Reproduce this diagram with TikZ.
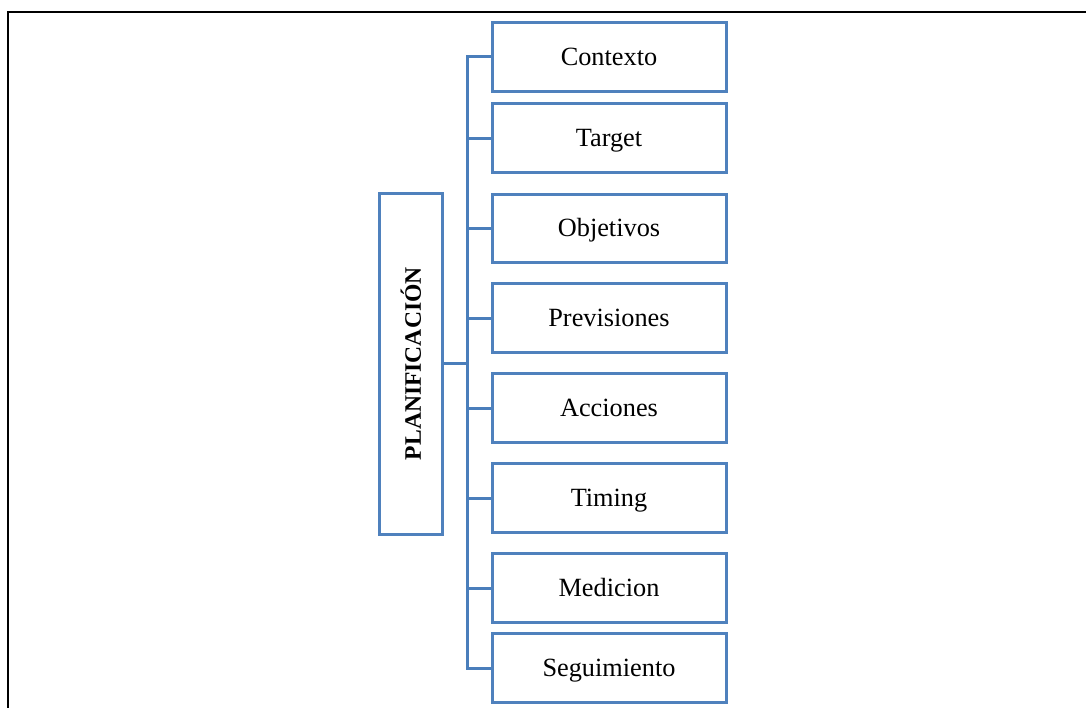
\documentclass[tikz,border=0pt]{standalone}
\usepackage{fontspec}
\setmainfont{Liberation Serif}
\definecolor{boxblue}{HTML}{4F81BD}
\definecolor{linkblue}{HTML}{4A7EBB}
\begin{document}
\begin{tikzpicture}[x=1pt,y=-1pt,
  item/.style={draw=boxblue, line width=3pt, minimum width=234pt, minimum height=68.5pt,
    inner sep=0pt, text height=18pt, text depth=1.6pt, font=\fontsize{26.3}{30}\selectfont},
  mainbox/.style={draw=boxblue, line width=3pt, minimum width=63.5pt, minimum height=341pt,
    inner sep=0pt},
  link/.style={draw=linkblue, line width=3pt}]
\useasboundingbox (0,0) rectangle (1086,708);
% frame (top and left edges)
\draw[line width=2.2pt] (8.3,708) -- (8.3,12) -- (1086,12);

% central box
\node[mainbox] (plan) at (410.8,363.7) {};
\node[rotate=90, font=\bfseries\fontsize{23.6}{28}\selectfont] (plantext) at (plan.center) {PLANIFICACIÓN};

% branch boxes
\node[item] (b1) at (609,57)    {Contexto};
\node[item] (b2) at (609,138.2) {Target};
\node[item] (b3) at (609,228.4) {Objetivos};
\node[item] (b4) at (609,318.2) {Previsiones};
\node[item] (b5) at (609,408.2) {Acciones};
\node[item] (b6) at (609,498.2) {Timing};
\node[item] (b7) at (609,588.2) {Medicion};
\node[item] (b8) at (609,668)   {Seguimiento};

% bus
\coordinate (bus) at (467.3,363.3);
\draw[link] (b1.west) -- (b1.west -| bus) -- (b8.west -| bus) -- (b8.west);
\draw[link] (plan.east |- bus) -- (bus);
\foreach \b in {b2,b3,b4,b5,b6,b7}
  \draw[link] (\b.west) -- (\b.west -| bus);
\end{tikzpicture}
\end{document}
